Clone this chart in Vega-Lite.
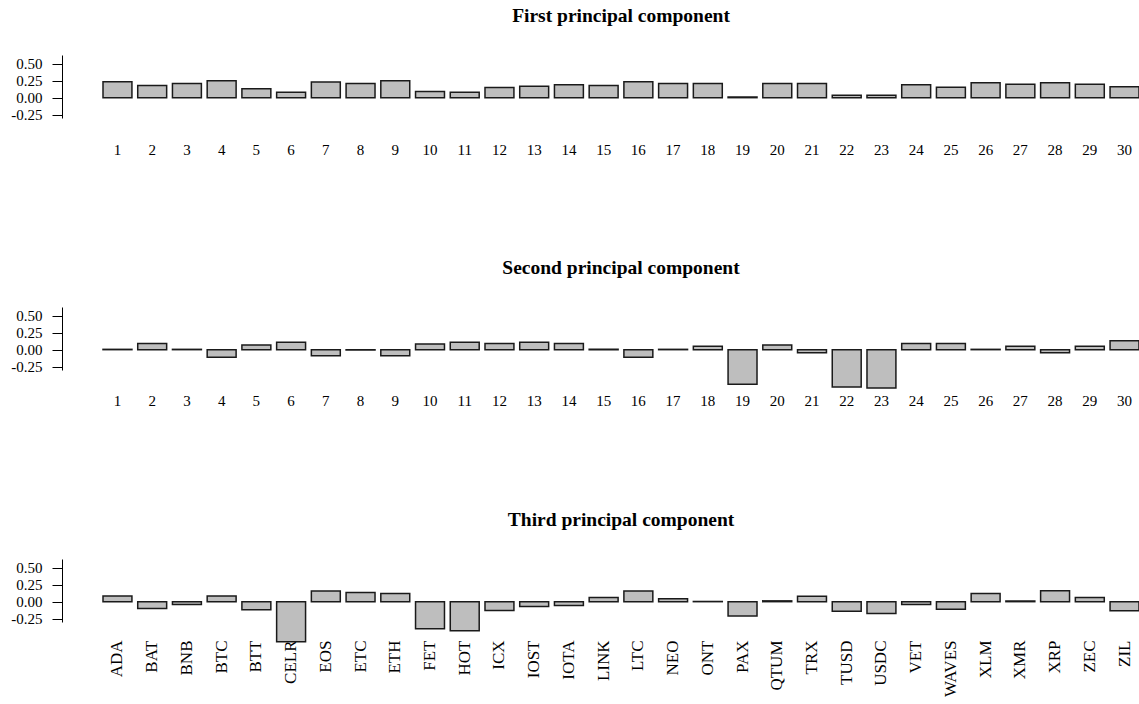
{
  "$schema": "https://vega.github.io/schema/vega-lite/v6.json",
  "background": "white",
  "padding": {"left": 10, "top": 6, "right": 0, "bottom": 0},
  "datasets": {
    "pc": [
      {"n": 1, "ticker": "ADA", "pc1": 0.235, "pc2": 0.005, "pc3": 0.083},
      {"n": 2, "ticker": "BAT", "pc1": 0.18, "pc2": 0.09, "pc3": -0.1},
      {"n": 3, "ticker": "BNB", "pc1": 0.21, "pc2": 0.005, "pc3": -0.04},
      {"n": 4, "ticker": "BTC", "pc1": 0.25, "pc2": -0.11, "pc3": 0.083},
      {"n": 5, "ticker": "BTT", "pc1": 0.13, "pc2": 0.07, "pc3": -0.12},
      {"n": 6, "ticker": "CELR", "pc1": 0.08, "pc2": 0.11, "pc3": -0.59},
      {"n": 7, "ticker": "EOS", "pc1": 0.23, "pc2": -0.09, "pc3": 0.157},
      {"n": 8, "ticker": "ETC", "pc1": 0.21, "pc2": -0.005, "pc3": 0.137},
      {"n": 9, "ticker": "ETH", "pc1": 0.25, "pc2": -0.09, "pc3": 0.12},
      {"n": 10, "ticker": "FET", "pc1": 0.09, "pc2": 0.085, "pc3": -0.4},
      {"n": 11, "ticker": "HOT", "pc1": 0.08, "pc2": 0.11, "pc3": -0.43},
      {"n": 12, "ticker": "ICX", "pc1": 0.15, "pc2": 0.09, "pc3": -0.13},
      {"n": 13, "ticker": "IOST", "pc1": 0.17, "pc2": 0.11, "pc3": -0.07},
      {"n": 14, "ticker": "IOTA", "pc1": 0.19, "pc2": 0.09, "pc3": -0.055},
      {"n": 15, "ticker": "LINK", "pc1": 0.18, "pc2": 0.005, "pc3": 0.06},
      {"n": 16, "ticker": "LTC", "pc1": 0.235, "pc2": -0.11, "pc3": 0.157},
      {"n": 17, "ticker": "NEO", "pc1": 0.21, "pc2": 0.005, "pc3": 0.045},
      {"n": 18, "ticker": "ONT", "pc1": 0.21, "pc2": 0.05, "pc3": 0.003},
      {"n": 19, "ticker": "PAX", "pc1": 0.01, "pc2": -0.51, "pc3": -0.21},
      {"n": 20, "ticker": "QTUM", "pc1": 0.21, "pc2": 0.07, "pc3": 0.012},
      {"n": 21, "ticker": "TRX", "pc1": 0.21, "pc2": -0.045, "pc3": 0.08},
      {"n": 22, "ticker": "TUSD", "pc1": 0.035, "pc2": -0.55, "pc3": -0.14},
      {"n": 23, "ticker": "USDC", "pc1": 0.035, "pc2": -0.565, "pc3": -0.175},
      {"n": 24, "ticker": "VET", "pc1": 0.19, "pc2": 0.09, "pc3": -0.04},
      {"n": 25, "ticker": "WAVES", "pc1": 0.155, "pc2": 0.09, "pc3": -0.11},
      {"n": 26, "ticker": "XLM", "pc1": 0.22, "pc2": 0.005, "pc3": 0.12},
      {"n": 27, "ticker": "XMR", "pc1": 0.197, "pc2": 0.05, "pc3": 0.01},
      {"n": 28, "ticker": "XRP", "pc1": 0.22, "pc2": -0.045, "pc3": 0.16},
      {"n": 29, "ticker": "ZEC", "pc1": 0.197, "pc2": 0.05, "pc3": 0.06},
      {"n": 30, "ticker": "ZIL", "pc1": 0.16, "pc2": 0.13, "pc3": -0.135}
    ]
  },
  "bounds": "flush",
  "spacing": 189,
  "vconcat": [
    {
      "width": 1036, "height": 63,
      "title": {"text": "First principal component"},
      "data": {"name": "pc"},
      "mark": {"type": "bar", "fill": "#BEBEBE", "stroke": "#1a1a1a", "strokeWidth": 1.5},
      "encoding": {
        "x": {"field": "n", "type": "ordinal", "scale": {"paddingInner": 0.1667, "paddingOuter": 0},
              "axis": {"title": null, "labelAngle": 0, "ticks": false, "domain": false, "labelPadding": 24, "labelFontSize": 15}},
        "y": {"field": "pc1", "type": "quantitative", "scale": {"domain": [-0.3, 0.63], "nice": false},
              "axis": {"title": null, "values": [-0.25, 0, 0.25, 0.5], "offset": 41, "tickSize": 10, "labelPadding": 10, "labelFontSize": 15,
                       "labelExpr": "datum.value < 0 ? '-' + format(-datum.value, '.2f') : format(datum.value, '.2f')"}}
      }
    },
    {
      "width": 1036, "height": 63,
      "title": {"text": "Second principal component"},
      "data": {"name": "pc"},
      "mark": {"type": "bar", "fill": "#BEBEBE", "stroke": "#1a1a1a", "strokeWidth": 1.5},
      "encoding": {
        "x": {"field": "n", "type": "ordinal", "scale": {"paddingInner": 0.1667, "paddingOuter": 0},
              "axis": {"title": null, "labelAngle": 0, "ticks": false, "domain": false, "labelPadding": 23, "labelFontSize": 15}},
        "y": {"field": "pc2", "type": "quantitative", "scale": {"domain": [-0.3, 0.63], "nice": false},
              "axis": {"title": null, "values": [-0.25, 0, 0.25, 0.5], "offset": 41, "tickSize": 10, "labelPadding": 10, "labelFontSize": 15,
                       "labelExpr": "datum.value < 0 ? '-' + format(-datum.value, '.2f') : format(datum.value, '.2f')"}}
      }
    },
    {
      "width": 1036, "height": 63,
      "title": {"text": "Third principal component"},
      "data": {"name": "pc"},
      "mark": {"type": "bar", "fill": "#BEBEBE", "stroke": "#1a1a1a", "strokeWidth": 1.5},
      "encoding": {
        "x": {"field": "ticker", "type": "nominal", "sort": null, "scale": {"paddingInner": 0.1667, "paddingOuter": 0},
              "axis": {"title": null, "labelAngle": -90, "ticks": false, "domain": false, "labelPadding": 18, "labelFontSize": 17}},
        "y": {"field": "pc3", "type": "quantitative", "scale": {"domain": [-0.3, 0.63], "nice": false},
              "axis": {"title": null, "values": [-0.25, 0, 0.25, 0.5], "offset": 41, "tickSize": 10, "labelPadding": 10, "labelFontSize": 15,
                       "labelExpr": "datum.value < 0 ? '-' + format(-datum.value, '.2f') : format(datum.value, '.2f')"}}
      }
    }
  ],
  "config": {
    "view": {"stroke": null},
    "font": "Liberation Serif",
    "title": {"font": "Liberation Serif", "fontSize": 19.5, "fontWeight": "bold", "color": "black", "anchor": "middle", "offset": 28.5},
    "axis": {"labelFont": "Liberation Serif", "labelColor": "black", "grid": false, "domainColor": "black", "tickColor": "black", "domainWidth": 1, "labelOverlap": false}
  }
}
